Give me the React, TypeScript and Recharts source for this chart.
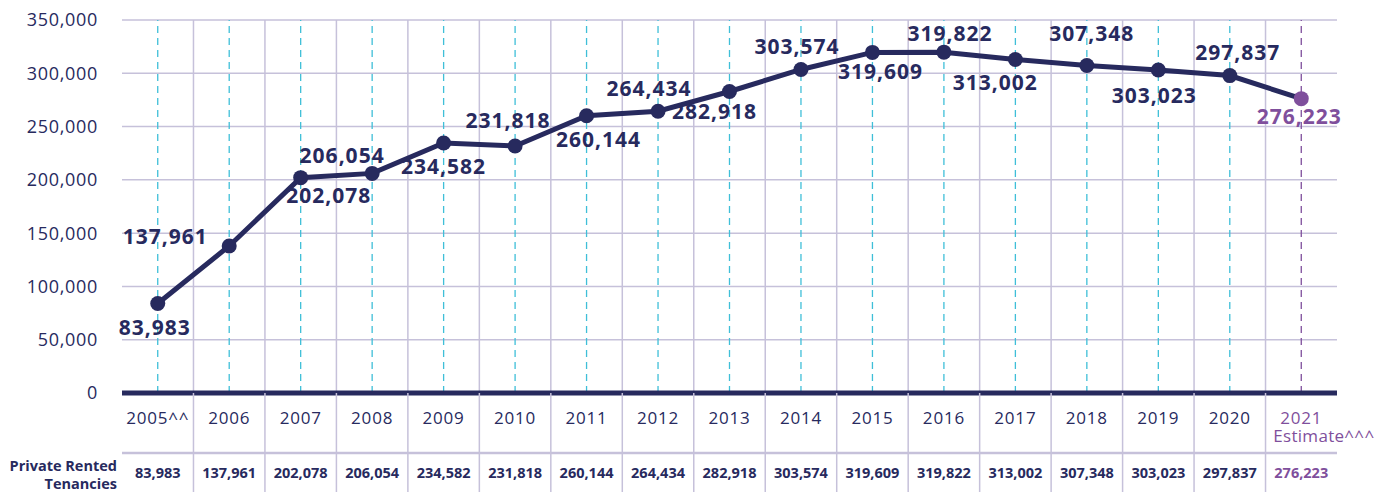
import { LineChart, Line, XAxis, YAxis, CartesianGrid, ReferenceLine, LabelList } from 'recharts';

const years = ['2005', '2006', '2007', '2008', '2009', '2010', '2011', '2012', '2013', '2014', '2015', '2016', '2017', '2018', '2019', '2020', '2021'];
const yearLabels = ['2005^^', '2006', '2007', '2008', '2009', '2010', '2011', '2012', '2013', '2014', '2015', '2016', '2017', '2018', '2019', '2020', '2021'];
const tenancies = [83983, 137961, 202078, 206054, 234582, 231818, 260144, 264434, 282918, 303574, 319609, 319822, 313002, 307348, 303023, 297837, 276223];
const yTicks = [0, 50000, 100000, 150000, 200000, 250000, 300000, 350000];
const rowTitle = ['Private Rented', 'Tenancies'];
const estimateNote = 'Estimate^^^';

// label offsets from each point (dx, dy)
const labelOffsets: [number, number][] = [
  [-3, 24], [-64, -10], [28, 17], [-30, -18], [0, 23], [-7, -26], [12, 23], [-9, -23], [-15, 20],
  [-4, -23], [8, 19], [6, -19], [-20, 23], [5, -32], [-4, 25], [8, -24], [-2, 17],
];

const NAVY = '#272a5e';
const PURPLE = '#7f4f9c';
const CYAN = '#3fbfd8';
const GRID = '#c6c1da';
const FONT = '"Open Sans", "Noto Sans", sans-serif';

const W = 1383;
const H = 492;
const MARGIN = { top: 20, right: 46, left: 8, bottom: 0 };
const Y_AXIS_W = 114;
const PLOT_W = W - MARGIN.left - MARGIN.right - Y_AXIS_W;
const BAND = PLOT_W / years.length;
const fmt = (v: number) => v.toLocaleString('en-US');

const data = years.map((y, i) => ({ year: y, value: tenancies[i] }));

const isLast = (i: number) => i === years.length - 1;

function YearTick(props: any) {
  const { x, y, index } = props;
  const color = isLast(index) ? PURPLE : NAVY;
  const left = x - BAND / 2;
  return (
    <g fontFamily={FONT}>
      {index > 0 && <line x1={left} x2={left} y1={y} y2={H} stroke={GRID} strokeWidth={1.5} />}
      <line x1={left} x2={left + BAND} y1={y + 60} y2={y + 60} stroke={GRID} strokeWidth={2.5} />
      <text x={x} y={y + 31} textAnchor="middle" fontSize={17} letterSpacing={0.8} fill={color}>
        {yearLabels[index]}
      </text>
      {isLast(index) && (
        <text x={x - 28} y={y + 49} textAnchor="start" fontSize={17} letterSpacing={0.3} fill={PURPLE}>
          {estimateNote}
        </text>
      )}
      <text x={x} y={y + 85} textAnchor="middle" fontSize={14.5} fontWeight={700} fill={color}>
        {fmt(tenancies[index])}
      </text>
      {index === 0 && (
        <text x={left - 5} textAnchor="end" fontSize={14.5} fontWeight={700} fill={NAVY}>
          <tspan x={left - 5} y={y + 78}>{rowTitle[0]}</tspan>
          <tspan x={left - 5} y={y + 96}>{rowTitle[1]}</tspan>
        </text>
      )}
    </g>
  );
}

function PointLabel(props: any) {
  const { x, y, index, value } = props;
  const [dx, dy] = labelOffsets[index];
  return (
    <text
      x={x + dx}
      y={y + dy}
      textAnchor="middle"
      dominantBaseline="central"
      fontFamily={FONT}
      fontSize={21}
      letterSpacing={1}
      fontWeight={700}
      fill={isLast(index) ? PURPLE : NAVY}
    >
      {fmt(value)}
    </text>
  );
}

function Dot(props: any) {
  const { cx, cy, index } = props;
  return <circle cx={cx} cy={cy} r={7.5} fill={isLast(index) ? PURPLE : NAVY} />;
}

export default function App() {
  return (
    <div style={{ position: 'absolute', left: 0, top: 0, background: '#fff' }}>
      <LineChart width={W} height={H} data={data} margin={MARGIN}>
        <CartesianGrid
          stroke={GRID}
          strokeWidth={1.5}
          verticalCoordinatesGenerator={({ offset }: any) =>
            years.slice(1).map((_, i) => offset.left + (i + 1) * (offset.width / years.length))
          }
        />
        {years.map((y, i) => (
          <ReferenceLine
            key={y}
            x={y}
            stroke={isLast(i) ? PURPLE : CYAN}
            strokeWidth={1.3}
            strokeDasharray="7 5"
          />
        ))}
        <XAxis
          dataKey="year"
          height={99}
          padding={{ left: BAND / 2, right: BAND / 2 }}
          tick={<YearTick />}
          tickLine={false}
          tickSize={0}
          tickMargin={0}
          axisLine={{ stroke: NAVY, strokeWidth: 5 }}
          interval={0}
        />
        <YAxis
          width={Y_AXIS_W}
          domain={[0, 350000]}
          ticks={yTicks}
          tickFormatter={fmt}
          axisLine={false}
          tickLine={false}
          tickMargin={18}
          tick={{ fontSize: 18, letterSpacing: 0.7, fill: NAVY, fontFamily: FONT }}
        />
        <Line
          dataKey="value"
          stroke={NAVY}
          strokeWidth={5}
          dot={<Dot />}
          activeDot={false}
          isAnimationActive={false}
        >
          <LabelList dataKey="value" content={<PointLabel />} />
        </Line>
      </LineChart>
    </div>
  );
}
